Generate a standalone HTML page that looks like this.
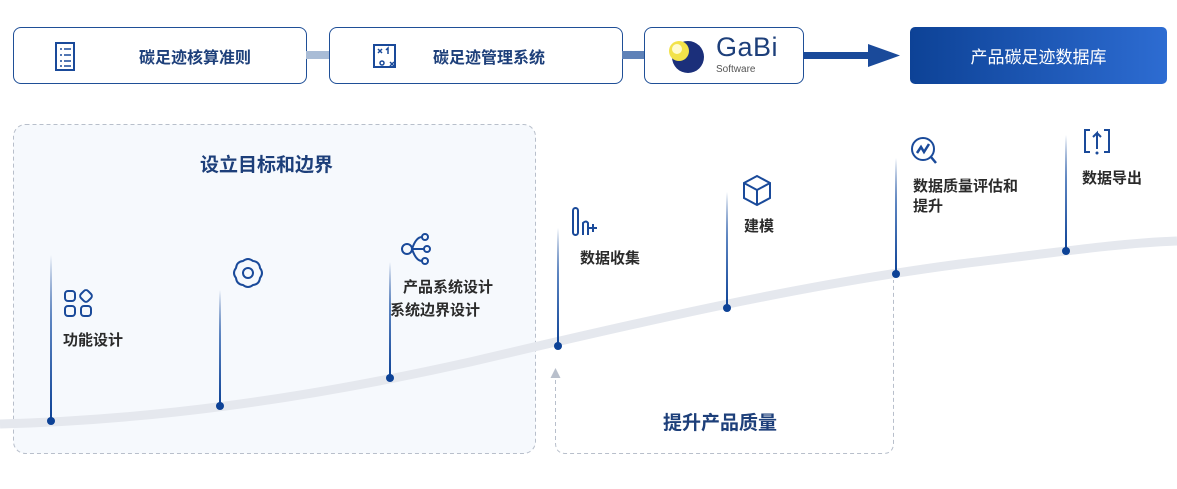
<!DOCTYPE html>
<html><head><meta charset="utf-8"><style>
body{margin:0;width:1177px;height:489px;background:#fff;position:relative;overflow:hidden;font-family:"Liberation Sans","Noto Sans CJK SC",sans-serif}
.box{position:absolute;top:27px;height:57px;border:1.5px solid #1f4f97;border-radius:8px;background:#fff;box-sizing:border-box}
.t{position:absolute;font-size:16px;font-weight:bold;color:#1d3f7a;white-space:nowrap;z-index:2}
.l{position:absolute;font-size:15px;color:#2b2b2b;white-space:nowrap;line-height:20px;z-index:2;font-weight:bold}
svg{z-index:1}
</style></head><body>
<div class="box" style="left:13px;width:294px"></div>
<div class="box" style="left:329px;width:294px"></div>
<div class="box" style="left:644px;width:160px"></div>
<svg width="1177" height="489" style="position:absolute;left:0;top:0">
<defs>
<linearGradient id="g" x1="0" y1="1" x2="0" y2="0"><stop offset="0" stop-color="#0d4296"/><stop offset="0.6" stop-color="#5a83c0"/><stop offset="1" stop-color="#0d4296" stop-opacity="0"/></linearGradient>
<linearGradient id="bg" x1="0" y1="0" x2="1" y2="0"><stop offset="0" stop-color="#0d4296"/><stop offset="1" stop-color="#2d6cd2"/></linearGradient>
</defs>
<rect x="13.5" y="124.5" width="522" height="329" rx="12" fill="#f6f9fd" stroke="#b8bfcb" stroke-dasharray="4 3"/>
<path d="M555.5 380 V443 Q555.5 453.5 566 453.5 H883 Q893.5 453.5 893.5 443 V280" fill="none" stroke="#b8bfcb" stroke-dasharray="4 3"/>
<path d="M555.5 368 l-5 10 h10z" fill="#b8bfcb"/>
<path d="M0 424 C150 420 300 400 470 362 C640 322 800 285 960 264 C1060 252 1120 243 1177 241" fill="none" stroke="#e5e8ee" stroke-width="9"/>
<rect x="306" y="51" width="23" height="8" fill="#a9bcd6"/>
<rect x="622" y="51" width="22" height="8" fill="#5f82b8"/>
<rect x="803" y="52" width="70" height="7" fill="#1a4a9a"/>
<path d="M868 44 L900 55.5 L868 67z" fill="#1a4a9a"/>
<rect x="910" y="27" width="257" height="57" rx="5" fill="url(#bg)"/>
<g fill="url(#g)">
<rect x="50" y="255" width="2" height="166"/><rect x="219" y="290" width="2" height="116"/><rect x="389" y="262" width="2" height="116"/><rect x="557" y="228" width="2" height="118"/><rect x="726" y="192" width="2" height="116"/><rect x="895" y="158" width="2" height="116"/><rect x="1065" y="135" width="2" height="116"/>
</g>
<g fill="#0d4296">
<circle cx="51" cy="421" r="4"/><circle cx="220" cy="406" r="4"/><circle cx="390" cy="378" r="4"/><circle cx="558" cy="346" r="4"/><circle cx="727" cy="308" r="4"/><circle cx="896" cy="274" r="4"/><circle cx="1066" cy="251" r="4"/>
</g>
<g fill="none" stroke="#1a4a9a" stroke-width="2">
<rect x="56" y="43" width="18" height="27"/><path d="M60 49h2M64 49h7M60 55h2M64 55h7M60 61h2M64 61h7M60 66h2M64 66h7" stroke-width="1.5"/>
<rect x="374" y="45" width="21" height="22"/><path d="M378 49l4 4M382 49l-4 4M388 54v-6l-2 2M390 62l4 4M394 62l-4 4" stroke-width="1.5"/><circle cx="382" cy="63" r="2" stroke-width="1.5"/>
<rect x="65" y="291" width="10" height="10" rx="3"/><rect x="81" y="291" width="10" height="10" rx="3" transform="rotate(45 86 296)"/><rect x="65" y="306" width="10" height="10" rx="3"/><rect x="81" y="306" width="10" height="10" rx="3"/>
<path d="M260 268 Q264 273 260 278 Q259.3 284.3 253 285 Q248 289 243 285 Q236.7 284.3 236 278 Q232 273 236 268 Q236.7 261.7 243 261 Q248 257 253 261 Q259.3 261.7 260 268Z"/><circle cx="248" cy="273" r="5"/>
<circle cx="407" cy="249" r="5"/><circle cx="425" cy="237" r="3"/><circle cx="427" cy="249" r="3"/><circle cx="425" cy="261" r="3"/><path d="M412 249h12M412 249q4-12 10-12M412 249q4 12 10 12"/>
<rect x="573" y="208" width="5" height="27" rx="2.5"/><path d="M583 235v-12q3-3 5 0v12M589 228h8M593 224v8"/>
<path d="M757 176l13 7v15l-13 7-13-7v-15z M744 183l13 7 13-7 M757 190v15"/>
<circle cx="923" cy="149" r="11"/><path d="M917 153l4-6 3 5 5-8M931 157l5 6" stroke-width="2.5"/>
<path d="M1090 130h-5v22h5M1104 130h5v22h-5M1097 149v-16l-4 4M1097 133l4 4"/>
</g>
<circle cx="1097" cy="153" r="1.5" fill="#1a4a9a"/>
</svg>
<div class="t" style="left:139px;top:44px">碳足迹核算准则</div>
<div class="t" style="left:433px;top:44px">碳足迹管理系统</div>
<svg width="50" height="40" style="position:absolute;left:664px;top:35px"><circle cx="24" cy="22" r="16" fill="#1b2f7a"/><circle cx="15" cy="16" r="10" fill="#f2e24a"/><circle cx="13" cy="14" r="5" fill="#fffbd0"/></svg>
<div style="position:absolute;left:716px;top:32px;font-size:27px;color:#1d3f7a;letter-spacing:0.5px;z-index:2">GaBi</div>
<div style="position:absolute;left:716px;top:64px;font-size:10px;color:#555;z-index:2">Software</div>
<div style="position:absolute;left:910px;top:43px;width:257px;text-align:center;font-size:17px;color:#fff;z-index:2">产品碳足迹数据库</div>
<div class="t" style="left:200px;top:150px;font-size:19px">设立目标和边界</div>
<div class="t" style="left:663px;top:408px;font-size:19px">提升产品质量</div>
<div class="l" style="left:63px;top:331px">功能设计</div>
<div class="l" style="left:403px;top:278px">产品系统设计</div>
<div class="l" style="left:390px;top:301px">系统边界设计</div>
<div class="l" style="left:580px;top:249px">数据收集</div>
<div class="l" style="left:744px;top:217px">建模</div>
<div class="l" style="left:913px;top:177px">数据质量评估和<br>提升</div>
<div class="l" style="left:1082px;top:169px">数据导出</div>
</body></html>
